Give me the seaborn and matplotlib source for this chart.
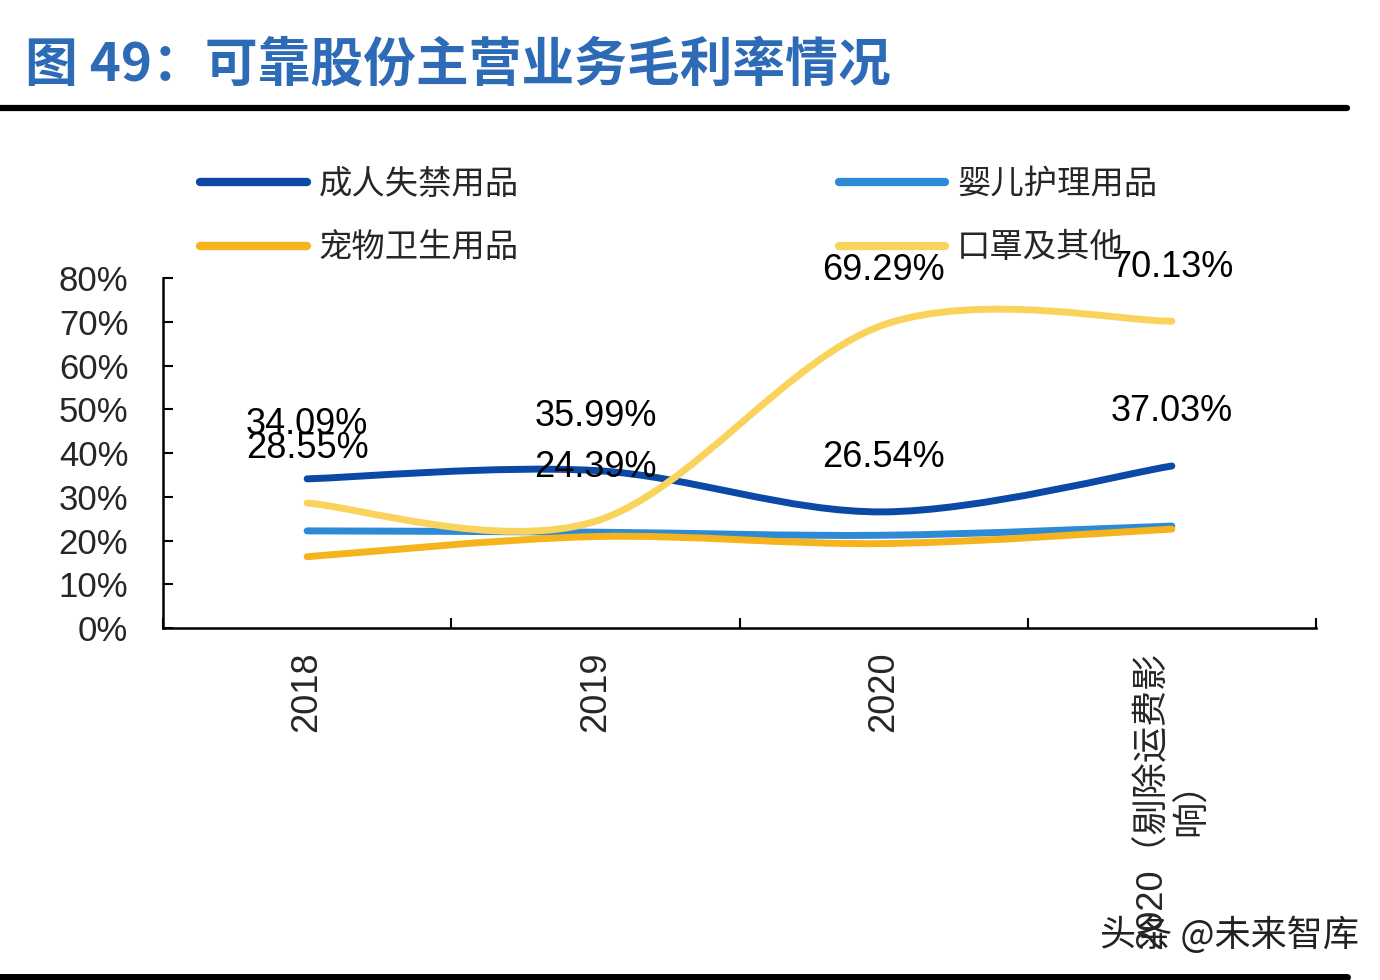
import numpy as np
import pandas as pd
import seaborn as sns
import matplotlib.pyplot as plt
from matplotlib.path import Path
from matplotlib.patches import PathPatch
from matplotlib.lines import Line2D

# data (gross margin, %)
years = ["2018", "2019", "2020", "2020（剔除运费影\n响）"]
names = ["成人失禁用品", "婴儿护理用品", "宠物卫生用品", "口罩及其他"]
adult = [34.09, 35.99, 26.54, 37.03]
baby = [22.2, 21.9, 21.2, 23.3]
pet = [16.3, 20.9, 19.3, 22.6]
mask = [28.55, 24.39, 69.29, 70.13]
colors = ["#0C48A6", "#2F8AD5", "#F5B41D", "#FAD35C"]

series = [adult, baby, pet, mask]
df = pd.DataFrame({
    "x": list(range(len(years))) * len(series),
    "y": sum(series, []),
    "name": np.repeat(names, len(years)),
})

sns.set_theme(style="white")
plt.rcParams["font.family"] = ["Liberation Sans", "Noto Sans CJK SC", "DejaVu Sans"]

fig = plt.figure(figsize=(13.8, 9.8), dpi=100)
ax = fig.add_axes([163 / 1380, 1 - 628 / 980, (1316 - 163) / 1380, (628 - 278) / 980])

# invisible seaborn pass to set the scales, smooth curves drawn on top
sns.lineplot(data=df, x="x", y="y", hue="name", palette=colors, hue_order=names,
             linewidth=0, legend=False, ax=ax)


def smooth_path(xs, ys):
    # excel-like smoothed line: catmull-rom turned into cubic beziers
    pts = np.column_stack([xs, ys]).astype(float)
    p = np.vstack([pts[0], pts, pts[-1]])
    verts = [pts[0]]
    codes = [Path.MOVETO]
    for i in range(1, len(p) - 2):
        c1 = p[i] + (p[i + 1] - p[i - 1]) / 6
        c2 = p[i + 1] - (p[i + 2] - p[i]) / 6
        verts += [c1, c2, p[i + 1]]
        codes += [Path.CURVE4] * 3
    return Path(verts, codes)


draw_order = [1, 2, 0, 3]
for k in draw_order:
    path = smooth_path(range(len(years)), series[k])
    ax.add_patch(PathPatch(path, facecolor="none", edgecolor=colors[k], lw=5,
                           capstyle="round", zorder=3))

# value labels for two of the series
for vals in (adult, mask):
    for i, v in enumerate(vals):
        ax.annotate(f"{v:.2f}%", (i, v), xytext=(0, 39), textcoords="offset points",
                    ha="center", va="center", fontsize=26, color="black", zorder=5)

ax.set_xlim(-0.5, 3.5)
ax.set_ylim(0, 80)
ax.set_yticks(range(0, 81, 10))
ax.set_yticklabels([f"{t}%" for t in range(0, 81, 10)], fontsize=25)
ax.set_xticks(range(len(years)))
ax.set_xticklabels(years, rotation=90, fontsize=26, va="top", ha="center",
                   multialignment="center")
ax.set_xticks([-0.5, 0.5, 1.5, 2.5, 3.5], minor=True)
ax.tick_params(axis="x", which="major", length=0, pad=17)
ax.tick_params(axis="x", which="minor", direction="in", length=7, width=1.5,
               color="black", bottom=True)
ax.tick_params(axis="y", direction="in", length=7, width=1.5, color="black", pad=25, left=True)
ax.set_xlabel("")
ax.set_ylabel("")
for s in ["top", "right"]:
    ax.spines[s].set_visible(False)
for s in ["left", "bottom"]:
    ax.spines[s].set_color("black")
    ax.spines[s].set_linewidth(1.8)

# legend: two columns above the plot
order = [0, 2, 1, 3]
handles = [Line2D([0], [0], color=colors[k], lw=6, solid_capstyle="round") for k in order]
leg = ax.legend(handles, [names[k] for k in order], ncol=2, frameon=False,
                loc="upper left", bbox_to_anchor=(200 / 1380, 1 - 167 / 980),
                bbox_transform=fig.transFigure, borderpad=0, borderaxespad=0,
                handlelength=3.2, handletextpad=0.35,
                columnspacing=9.6, labelspacing=0.85,
                prop={"family": ["Noto Sans CJK SC"], "size": 24})

# title and rules
fig.text(25 / 1380, 1 - 65 / 980, "图 49：可靠股份主营业务毛利率情况", color="#2E6BB7",
         fontsize=38, fontweight="bold", va="center", ha="left",
         family=["Noto Sans CJK SC", "DejaVu Sans"])
fig.add_artist(Line2D([0, 1347 / 1380], [1 - 108 / 980] * 2, color="black", lw=4.5))
fig.add_artist(Line2D([0, 1347 / 1380], [1 - 977 / 980] * 2, color="black", lw=5))

fig.text(1100 / 1380, 1 - 935 / 980, "头条 @未来智库", fontsize=26, color="#222222",
         va="center", ha="left", family=["Noto Sans CJK SC", "DejaVu Sans"])

fig.savefig("out.png", dpi=100, facecolor="white")
